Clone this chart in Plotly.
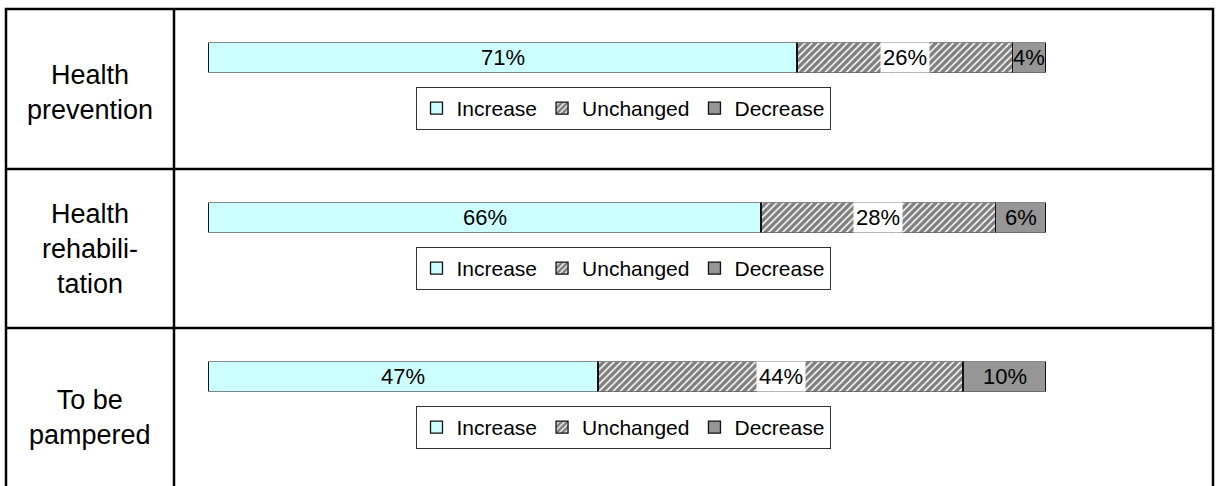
import plotly.graph_objects as go

# ---- data ----
row_labels = ["Health<br>prevention", "Health<br>rehabili-<br>tation", "To be<br>pampered"]
categories = ["Increase", "Unchanged", "Decrease"]
increase = [71, 66, 47]
unchanged = [26, 28, 44]
decrease = [4, 6, 10]

W, H = 1218, 486
FONT = "Liberation Sans, Arial, sans-serif"

def px_x(p):
    return p / W

def px_y(p):
    return 1 - p / H

colors = {"Increase": "#CCFFFF", "Unchanged": "white", "Decrease": "#969696"}
patterns = {
    "Increase": dict(shape=""),
    "Unchanged": dict(shape="/", fgcolor="black", bgcolor="white", size=5, solidity=0.7),
    "Decrease": dict(shape=""),
}

row_top = [9, 169, 328]
row_bottom = [169, 328, 506]
label_shift = [3, 0, 0]
bar_offset_top = 33.5   # bar top below row top (px)
bar_h = 30
legend_offset = 78      # legend top below row top (px)

fig = go.Figure()
series = {"Increase": increase, "Unchanged": unchanged, "Decrease": decrease}

layout_axes = {}
annotations = []
for r in range(3):
    sfx = "" if r == 0 else str(r + 1)
    xa, ya = "x" + sfx, "y" + sfx
    leg = "legend" + sfx
    for c in categories:
        fig.add_trace(go.Bar(
            x=[series[c][r]], y=[0], orientation="h", width=1,
            name=c, xaxis=xa, yaxis=ya, legend=leg, showlegend=True,
            marker=dict(color=colors[c], pattern=patterns[c],
                        line=dict(color="#111111", width=1.3)),
            hoverinfo="skip",
        ))
    top = row_top[r] + bar_offset_top
    layout_axes["xaxis" + sfx] = dict(domain=[px_x(208), px_x(1046)], range=[0, 100],
                                      visible=False, fixedrange=True, anchor=ya)
    layout_axes["yaxis" + sfx] = dict(domain=[px_y(top + bar_h), px_y(top)], range=[-0.5, 0.5],
                                      visible=False, fixedrange=True, anchor=xa)
    layout_axes[leg] = dict(
        x=px_x(623), xanchor="center", y=px_y(row_top[r] + legend_offset), yanchor="top",
        orientation="h", traceorder="normal", bordercolor="#333333", borderwidth=1,
        bgcolor="white", font=dict(family=FONT, size=21, color="black"),
        itemclick=False, itemdoubleclick=False,
    )
    # data labels
    vals = [series[c][r] for c in categories]
    total = sum(vals)
    cum = 0
    for c, v in zip(categories, vals):
        center = (cum + v / 2) / total * 100
        cum += v
        annotations.append(dict(
            x=center, y=0, xref=xa, yref=ya, text=f"{v}%", showarrow=False,
            font=dict(family=FONT, size=22, color="black"),
            bgcolor="white" if c == "Unchanged" else None, borderpad=2,
        ))
    # row label
    annotations.append(dict(
        x=px_x(90), y=px_y((row_top[r] + row_bottom[r]) / 2 + label_shift[r]),
        xref="paper", yref="paper", text=row_labels[r], showarrow=False,
        font=dict(family=FONT, size=27, color="black"), align="center",
        xanchor="center", yanchor="middle",
    ))

# table grid
lw = 2.5
shapes = [
    dict(type="rect", xref="paper", yref="paper", x0=px_x(6), x1=px_x(1213),
         y0=px_y(506), y1=px_y(9), line=dict(color="black", width=lw)),
    dict(type="line", xref="paper", yref="paper", x0=px_x(174), x1=px_x(174),
         y0=px_y(506), y1=px_y(9), line=dict(color="black", width=lw)),
    dict(type="line", xref="paper", yref="paper", x0=px_x(6), x1=px_x(1213),
         y0=px_y(169), y1=px_y(169), line=dict(color="black", width=lw)),
    dict(type="line", xref="paper", yref="paper", x0=px_x(6), x1=px_x(1213),
         y0=px_y(328), y1=px_y(328), line=dict(color="black", width=lw)),
]

fig.update_layout(
    width=W, height=H, margin=dict(l=0, r=0, t=0, b=0),
    paper_bgcolor="white", plot_bgcolor="white",
    barmode="stack", barnorm="percent",
    annotations=annotations, shapes=shapes,
    font=dict(family=FONT),
    **layout_axes,
)

fig.write_html("out.html", config={"displayModeBar": False},
               post_script="document.body.style.margin='0';document.body.style.overflow='hidden';")
